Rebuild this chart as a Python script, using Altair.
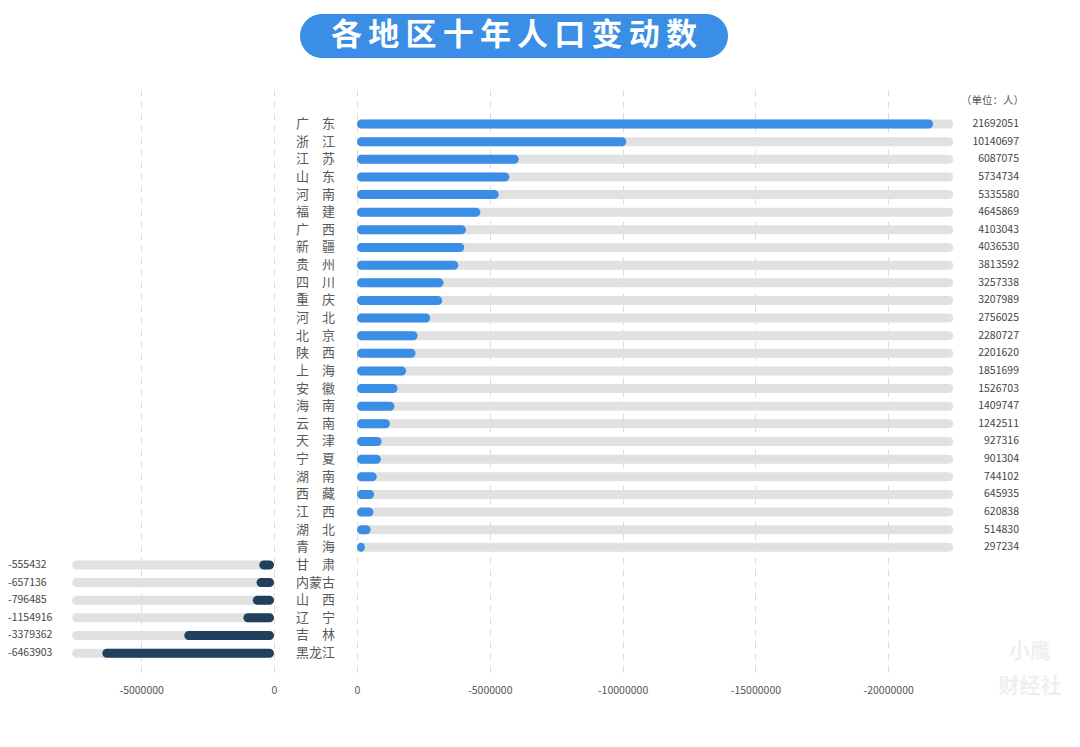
import altair as alt
import pandas as pd

provinces = ["广　东", "浙　江", "江　苏", "山　东", "河　南", "福　建", "广　西", "新　疆",
             "贵　州", "四　川", "重　庆", "河　北", "北　京", "陕　西", "上　海", "安　徽",
             "海　南", "云　南", "天　津", "宁　夏", "湖　南", "西　藏", "江　西", "湖　北",
             "青　海", "甘　肃", "内蒙古", "山　西", "辽　宁", "吉　林", "黑龙江"]
values = [21692051, 10140697, 6087075, 5734734, 5335580, 4645869, 4103043, 4036530,
          3813592, 3257338, 3207989, 2756025, 2280727, 2201620, 1851699, 1526703,
          1409747, 1242511, 927316, 901304, 744102, 645935, 620838, 514830,
          297234, -555432, -657136, -796485, -1154916, -3379362, -6463903]

# axis extents of the grey tracks and the gap holding the names
POS_TRACK = 22450000
NEG_TRACK = 7600000
GAP = 1562500
tick_values = [-5000000, 0, 0, 5000000, 10000000, 15000000, 20000000]
tick_side = [-1, -1, 1, 1, 1, 1, 1]

df = pd.DataFrame({"province": provinces, "value": values})
tick_pos = [v - GAP if s < 0 else v + GAP for v, s in zip(tick_values, tick_side)]

BLUE = "#3a8ee6"
NAVY = "#213f5e"
GREY = "#e1e1e1"
FONT = "Noto Sans CJK SC"

base = alt.Chart(df).transform_calculate(
    start=f"datum.value >= 0 ? {GAP} : {-GAP}",
    end=f"datum.value >= 0 ? datum.value + {GAP} : datum.value - {GAP}",
    track=f"datum.value >= 0 ? {GAP + POS_TRACK} : {-GAP - NEG_TRACK}",
    sign="datum.value >= 0 ? 'pos' : 'neg'",
    label="'' + datum.value",
)

xscale = alt.Scale(domain=[-11879000, 28784000], nice=False, zero=False)
yenc = alt.Y("province:N", sort=provinces, axis=None,
             scale=alt.Scale(paddingInner=0, paddingOuter=1, align=0.715))

label_expr = (f"datum.value < 0 ? '' + round(datum.value + {GAP}) : "
              f"(round(datum.value - {GAP}) == 0 ? '0' : '-' + round(datum.value - {GAP}))")

track = base.mark_bar(size=9, cornerRadius=4.5, color=GREY).encode(
    x=alt.X("start:Q", scale=xscale, title=None,
            axis=alt.Axis(values=tick_pos, labelExpr=label_expr, grid=True,
                          gridDash=[7, 5], gridColor="#dcdcdc", gridWidth=1,
                          domain=False, ticks=False, labelPadding=13,
                          labelFontSize=10.5, labelColor="#555", labelFont=FONT)),
    x2="track:Q",
    y=yenc,
)

bars = base.mark_bar(size=9, cornerRadius=4.5).encode(
    x=alt.X("start:Q", scale=xscale),
    x2="end:Q",
    y=yenc,
    color=alt.Color("sign:N", scale=alt.Scale(domain=["pos", "neg"], range=[BLUE, NAVY]), legend=None),
)

names = base.mark_text(fontSize=13, color="#5a5a5a", font=FONT, align="center", baseline="middle").encode(
    x=alt.datum(0, scale=xscale), y=yenc, text="province:N"
)

pos_labels = base.transform_filter("datum.value >= 0").mark_text(
    fontSize=10.5, color="#444", font=FONT, align="right", baseline="middle"
).encode(x=alt.value(1019), y=yenc, text="label:N")

neg_labels = base.transform_filter("datum.value < 0").mark_text(
    fontSize=10.5, color="#444", font=FONT, align="left", baseline="middle"
).encode(x=alt.value(8), y=yenc, text="label:N")

deco = alt.Chart(pd.DataFrame({"t": ["各\u2009地\u2009区\u2009十\u2009年\u2009人\u2009口\u2009变\u2009动\u2009数"]}))
pill = deco.mark_rect(cornerRadius=22, color=BLUE).encode(
    x=alt.value(300), x2=alt.value(728), y=alt.value(-76), y2=alt.value(-32)
)
title = deco.mark_text(fontSize=31, fontWeight="bold", color="white", font=FONT,
                       align="center", baseline="middle").encode(
    x=alt.value(514), y=alt.value(-54), text="t:N"
)
unit = alt.Chart(pd.DataFrame({"t": ["（单位：人）"]})).mark_text(
    fontSize=10.5, color="#555", font=FONT, align="right", baseline="middle"
).encode(x=alt.value(1024), y=alt.value(11), text="t:N")

wm = alt.Chart(pd.DataFrame({"t": ["小鹰", "财经社"], "dy": [562, 597]})).mark_text(
    fontSize=21, fontWeight="bold", color="#efefef", font=FONT, align="center", baseline="middle"
).encode(x=alt.value(1030), y=alt.Y("dy:Q", scale=None), text="t:N")

chart = alt.layer(track, bars, names, pos_labels, neg_labels, pill, title, unit, wm).properties(
    width=1080, height=582,
    padding={"top": 90, "left": 0, "right": 0, "bottom": 75},
    autosize=alt.AutoSizeParams(type="none"),
    background="white",
).configure_view(stroke=None)

chart.save("out.html", embed_options={"renderer": "svg", "actions": False})
